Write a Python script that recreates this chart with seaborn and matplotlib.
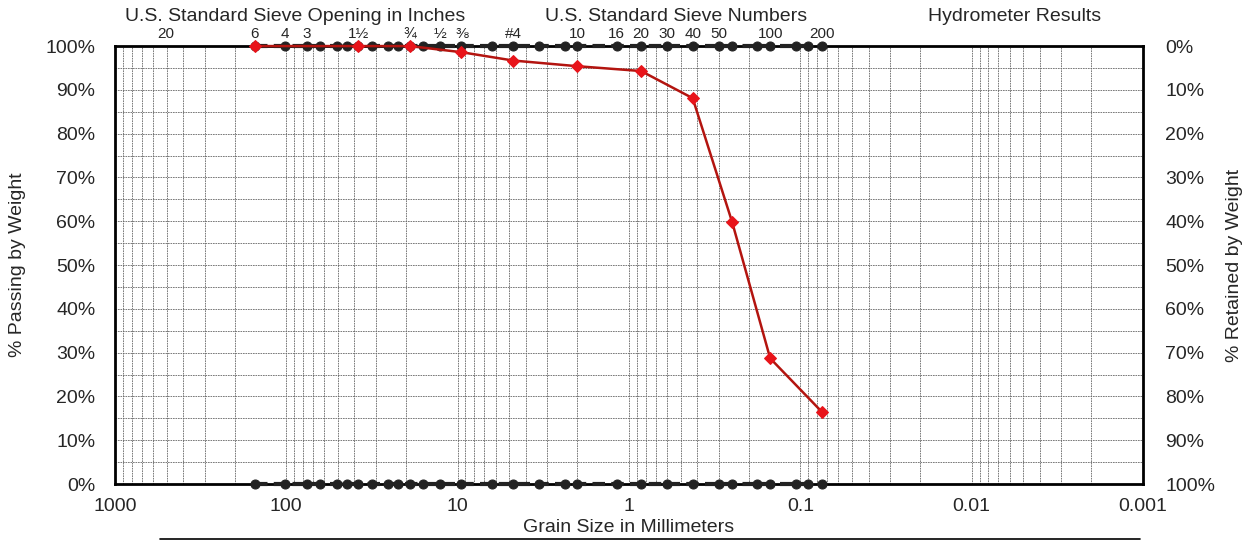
import pandas as pd
import seaborn as sns
import matplotlib.pyplot as plt
from matplotlib.lines import Line2D
from matplotlib.ticker import FixedLocator, MultipleLocator, NullFormatter, LogLocator

# sieve openings marked along the top and bottom edges (mm)
sieve_mm = [152.4, 101.6, 76.2, 63.5, 50.8, 44.45, 38.1, 31.75, 25.4, 22.2, 19.05,
            15.9, 12.7, 9.5, 6.3, 4.75, 3.35, 2.36, 2.0, 1.18, 0.85, 0.6, 0.425,
            0.3, 0.25, 0.18, 0.15, 0.106, 0.09, 0.075]

# gradation result
grain_mm = [152.4, 38.1, 19.05, 9.5, 4.75, 2.0, 0.85, 0.425, 0.25, 0.15, 0.075]
pct_passing = [100, 100, 100, 98.6, 96.7, 95.4, 94.3, 88.1, 59.8, 28.7, 16.5]

inch_labels = ["20", "6", "4", "3", "1½", "¾", "½", "⅜", "#4"]
inch_label_mm = [508, 152.4, 101.6, 76.2, 38.1, 19.05, 12.7, 9.5, 4.75]
number_labels = ["10", "16", "20", "30", "40", "50", "100", "200"]
number_label_mm = [2.0, 1.18, 0.85, 0.6, 0.425, 0.3, 0.15, 0.075]

x_ticks = [1000, 100, 10, 1, 0.1, 0.01, 0.001]
x_tick_labels = ["1000", "100", "10", "1", "0.1", "0.01", "0.001"]

sns.set_style("white")
plt.rcParams['font.family'] = ['Liberation Sans', 'DejaVu Sans']

fig, ax = plt.subplots(figsize=(12.51, 5.42), dpi=100)
fig.subplots_adjust(left=0.0919, right=0.9137, bottom=0.107, top=0.915)

ax.set_xscale("log")
ax.set_xlim(1000, 0.001)
ax.set_ylim(0, 100)

# black sieve markers along top and bottom
top = pd.DataFrame({"mm": sieve_mm, "y": [100] * len(sieve_mm)})
bot = pd.DataFrame({"mm": sieve_mm, "y": [0] * len(sieve_mm)})
for d in (top, bot):
    sns.lineplot(data=d, x="mm", y="y", ax=ax, color="#222222", lw=3,
                 linestyle=(0, (3, 1.5)), marker="o", markersize=6.5,
                 markeredgecolor="#222222", clip_on=False, zorder=4, sort=False)

# gradation curve
curve = pd.DataFrame({"mm": grain_mm, "passing": pct_passing})
sns.lineplot(data=curve, x="mm", y="passing", ax=ax, color="#b3140f", lw=1.8,
             marker="D", markersize=6, markerfacecolor="#e8141a",
             markeredgecolor="#e8141a", clip_on=False, zorder=6, sort=False)

# grid
ax.xaxis.set_major_locator(FixedLocator(x_ticks))
ax.set_xticklabels(x_tick_labels)
ax.xaxis.set_minor_locator(LogLocator(base=10, subs=range(2, 10), numticks=20))
ax.xaxis.set_minor_formatter(NullFormatter())
ax.yaxis.set_major_locator(MultipleLocator(10))
ax.yaxis.set_minor_locator(MultipleLocator(5))
ax.set_yticklabels([f"{int(v)}%" for v in ax.get_yticks()])
ax.grid(True, which="both", color="#666666", lw=0.6, linestyle=(0, (2, 1)))
ax.tick_params(axis="x", which="major", length=5, width=1, labelsize=14,
               direction="out", pad=5)
ax.tick_params(axis="x", which="minor", length=0)
ax.tick_params(axis="y", which="major", length=0, labelsize=14, pad=14)
ax.tick_params(axis="y", which="minor", length=0)
for s in ax.spines.values():
    s.set_linewidth(2)
    s.set_color("black")

ax.set_xlabel("Grain Size in Millimeters", fontsize=14, labelpad=3)
ax.set_ylabel("% Passing by Weight", fontsize=14, labelpad=14)

# right axis: retained
ax2 = ax.twinx()
ax2.set_ylim(100, 0)
ax2.yaxis.set_major_locator(MultipleLocator(10))
ax2.set_yticklabels([f"{int(v)}%" for v in ax2.get_yticks()])
ax2.tick_params(axis="y", length=0, labelsize=14, pad=16)
ax2.set_ylabel("% Retained by Weight", fontsize=14, labelpad=8)
for s in ax2.spines.values():
    s.set_visible(False)

# sieve labels along top
for lab, mm in zip(inch_labels + number_labels, inch_label_mm + number_label_mm):
    ax.text(mm, 1.027, lab, transform=ax.get_xaxis_transform(), ha="center",
            va="center", fontsize=11)

ax.text(0.175, 1.068, "U.S. Standard Sieve Opening in Inches", transform=ax.transAxes,
        ha="center", va="center", fontsize=14)
ax.text(0.546, 1.068, "U.S. Standard Sieve Numbers", transform=ax.transAxes,
        ha="center", va="center", fontsize=14)
ax.text(0.875, 1.068, "Hydrometer Results", transform=ax.transAxes,
        ha="center", va="center", fontsize=14)

fig.add_artist(Line2D([0.128, 0.911], [0.005, 0.005], color="black", lw=1.2))

fig.savefig("out.png", dpi=100)
